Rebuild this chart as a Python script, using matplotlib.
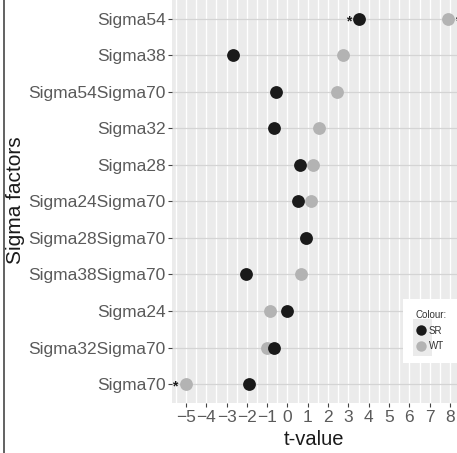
import matplotlib
matplotlib.use("Agg")
import matplotlib.pyplot as plt
from matplotlib.lines import Line2D
from matplotlib.patches import Rectangle

plt.rcParams['font.family'] = ['Liberation Sans', 'DejaVu Sans']

# Data (bottom to top)
factors = ["Sigma70", "Sigma32Sigma70", "Sigma24", "Sigma38Sigma70", "Sigma28Sigma70",
           "Sigma24Sigma70", "Sigma28", "Sigma32", "Sigma54Sigma70", "Sigma38", "Sigma54"]
sr_values = [-1.91, -0.65, -0.02, -2.04, 0.91, 0.53, 0.62, -0.66, -0.58, -2.70, 3.54]
wt_values = [-5.01, -0.99, -0.85, 0.65, 0.90, 1.17, 1.26, 1.57, 2.42, 2.75, 7.92]
# significance stars: (factor, x position)
star_factors = ["Sigma54", "Sigma70", "Sigma54"]
star_x = [2.99, -5.55, 8.40]
x_ticks = list(range(-5, 9))

W, H = 457, 453
fig = plt.figure(figsize=(W / 100, H / 100), dpi=100)
fig.patch.set_facecolor("white")

left_px, right_px, top_px, bot_px = 172, 457, -3, 403
ax = fig.add_axes([left_px / W, 1 - bot_px / H, (right_px - left_px) / W, (bot_px - top_px) / H])
ax.set_facecolor("#ebebeb")

ypos = list(range(1, len(factors) + 1))
ax.set_ylim(0.48, 11.6)
ax.set_xlim(-5.687, 8.346)

# grid
for i in range(-11, 17):
    ax.axvline(i * 0.5, color="white", lw=1.0, zorder=0.5)
for y in ypos:
    ax.axhline(y, color="#d4d4d4", lw=0.9, zorder=0.6)

ax.scatter(wt_values, ypos, s=85, color="#b3b3b3", zorder=3, linewidths=0, label="WT")
ax.scatter(sr_values, ypos, s=85, color="#1a1a1a", zorder=4, linewidths=0, label="SR")

for f, x in zip(star_factors, star_x):
    ax.text(x, factors.index(f) + 1 - 0.07, "*", ha="center", va="center", fontsize=10,
            fontweight="bold", color="#1a1a1a", zorder=5, clip_on=True)

ax.set_yticks(ypos)
ax.set_yticklabels(factors, fontsize=12.5, color="#5a5a5a")
ax.set_xticks(x_ticks)
ax.set_xticklabels([str(t).replace("-", "\u2212") for t in x_ticks], fontsize=12.5, color="#5a5a5a")
ax.tick_params(axis="both", length=3.2, width=0.8, color="#444444", pad=1.5)
for s in ax.spines.values():
    s.set_visible(False)

ax.set_xlabel("t-value", fontsize=14.5, color="#1a1a1a", labelpad=4)
ax.set_ylabel("Sigma factors", fontsize=15, color="#1a1a1a", labelpad=2)

# legend
lx0, ly0, lw_, lh_ = 403, 299, 60, 64
fig.patches.append(Rectangle((lx0 / W, 1 - (ly0 + lh_) / H), lw_ / W, lh_ / H,
                             transform=fig.transFigure, facecolor="white", edgecolor="none", zorder=2))
fig.patches.append(Rectangle((413 / W, 1 - 356 / H), 19 / W, 37 / H,
                             transform=fig.transFigure, facecolor="#ebebeb", edgecolor="none", zorder=3))
handles = [Line2D([], [], marker="o", ls="none", color="#1a1a1a", markersize=7.5, markeredgewidth=0),
           Line2D([], [], marker="o", ls="none", color="#b3b3b3", markersize=7.5, markeredgewidth=0)]
leg = fig.legend(handles, ["SR", "WT"], title="Colour:", loc="upper left",
                 bbox_to_anchor=(409 / W, 1 - 303 / H), frameon=False, fontsize=7,
                 title_fontsize=7, handlelength=1.0, handletextpad=0.35, labelspacing=0.6,
                 borderpad=0.2, alignment="left")
for t in leg.get_texts():
    t.set_color("#333333")
leg.get_title().set_color("#333333")
leg.set_zorder(5)

# left border line of original image
fig.add_artist(Line2D([3.5 / W, 3.5 / W], [0, 1], transform=fig.transFigure, color="#555555", lw=1.3))

fig.savefig("out.png", dpi=100)
